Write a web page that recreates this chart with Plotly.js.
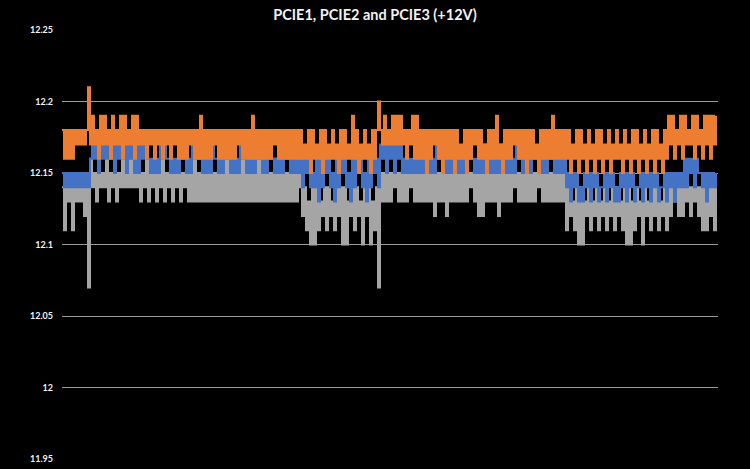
<!DOCTYPE html>
<html>
<head>
<meta charset="utf-8">
<script src="https://cdn.plot.ly/plotly-3.0.1.min.js"></script>
<style>
  html, body { margin: 0; padding: 0; background: #000; }
  #graphDiv { width: 750px; height: 469px; }
</style>
</head>
<body>
<div id="graphDiv"></div>
<script>
// readings in hundredths of a volt above 12 V, one sample per column of the log
const pcie1 = [
  15,14,15,14,15,14,15,14,15,14,15,14,15,
  14,
  16,17,16,17,15,17,16,17,16,17,
  16,17,15,17,16,17,16,17,15,17,
  16,17,15,17,15,17,16,
  17,16,16,15,16,15,16,15,17,16,
  17,16,16,15,16,15,16,15,17,16,
  16,15,16,15,17,16,17,16,16,15,
  16,15,16,15,17,16,16,15,16,15,
  17,16,16,15,16,15,16,15,17,16,
  16,15,16,15,16,15,17,16,16,15,
  16,15,17,16,16,15,16,15,16,15,
  17,16,16,15,16,15,16,15,
  16,14,16,15,16,14,15,14,16,13,
  16,14,16,15,16,14,15,13,16,14,
  16,15,16,14,15,13,16,14,16,15,
  16,14,15,13,16,14,16,15,16,
  14,
  17,16,17,15,17,16,17,15,17,16,
  17,15,16,15,16,15,16,15,16,15,
  16,15,17,16,16,15,16,15,17,16,
  16,15,16,15,16,15,17,16,16,15,
  16,15,16,15,17,16,16,15,16,15,
  16,15,17,16,16,15,16,15,16,15,
  17,16,16,15,16,15,16,15,17,16,
  16,15,16,15,16,15,17,16,16,15,
  16,15,16,15,17,16,16,15,16,15,
  16,15,16,
  14,15,13,15,14,15,13,14,13,15,
  14,15,13,15,14,15,13,14,14,15,
  13,15,14,15,13,14,13,15,14,15,
  13,15,14,15,13,14,14,15,13,15,
  14,15,13,15,14,15,13,14,14,15,
  13,
  15,14,15,13,15,14,15,14,16,14,
  16,15,16,14,16,15,15,14,15,13,
  15,14,15,14,15
];
const pcie2 = [
  18,16,18,16,18,16,18,17,18,17,18,17,18,
  21,
  17,19,17,18,16,19,17,19,17,18,
  16,19,17,18,17,19,16,19,17,18,
  17,19,16,19,17,18,17,
  18,16,18,17,18,16,18,17,18,16,
  18,17,18,16,18,17,18,16,18,16,
  18,16,18,17,18,16,18,16,19,16,
  18,16,18,16,18,17,18,16,18,16,
  18,16,18,16,18,16,18,17,18,16,
  18,16,18,16,19,16,18,16,18,16,
  18,16,18,16,18,17,18,16,18,16,
  18,16,18,16,18,16,18,16,
  18,16,17,16,18,15,18,16,17,16,
  18,15,18,16,17,16,18,16,17,15,
  18,16,18,16,17,16,19,16,18,15,
  17,16,18,16,17,15,18,16,18,
  20,
  18,17,19,17,18,17,19,17,19,17,
  19,17,18,16,18,17,19,16,19,16,
  18,16,18,15,18,16,18,17,18,16,
  18,15,18,16,18,16,18,15,18,16,
  17,16,18,15,18,16,18,17,18,16,
  18,16,17,15,18,16,18,16,19,16,
  17,15,18,16,18,16,18,17,18,16,
  18,16,18,15,18,16,18,16,17,15,
  18,16,18,16,18,16,19,16,18,16,
  18,16,18,
  16,18,15,17,16,18,15,18,16,17,
  15,18,16,17,15,18,16,18,15,17,
  16,18,15,17,16,18,16,17,15,18,
  16,17,15,18,16,18,15,17,16,18,
  15,17,16,18,15,18,16,17,15,18,
  16,
  19,17,19,16,18,17,19,16,19,17,
  18,17,19,16,19,17,18,16,19,17,
  19,16,19,17,19
];
const pcie3 = [
  14,11,14,13,14,11,14,13,14,13,14,12,14,
  7,
  16,14,15,13,16,14,15,14,16,13,
  15,14,16,13,15,14,16,14,15,14,
  16,14,15,14,16,13,15,14,16,13,
  15,14,16,13,15,14,16,13,15,14,
  16,13,15,14,16,13,15,14,16,13,
  15,13,16,13,15,13,16,13,15,13,
  16,13,15,13,16,13,15,13,16,13,
  15,13,16,13,15,13,16,13,15,13,
  16,13,15,13,16,13,15,13,16,13,
  15,13,16,13,15,13,16,13,15,13,
  16,13,15,13,16,
  14,12,14,11,13,10,14,10,14,11,
  13,12,14,11,14,12,13,11,14,12,
  14,10,14,10,13,12,14,11,14,12,
  13,10,14,12,14,10,13,11,14,
  7,
  15,13,15,13,15,13,15,14,15,13,
  15,13,15,13,15,14,15,13,15,13,
  15,13,15,13,15,13,15,12,15,13,
  15,13,15,12,15,13,15,13,15,13,
  15,13,15,13,15,14,15,13,15,12,
  15,12,15,13,15,13,15,13,15,12,
  15,13,15,13,15,13,15,14,15,13,
  15,13,15,13,15,13,15,13,15,14,
  15,13,15,13,15,13,15,13,15,13,
  15,13,15,
  11,14,12,13,11,14,10,14,10,13,
  12,14,11,13,12,14,11,13,12,14,
  11,13,12,14,11,14,12,13,11,14,
  10,14,10,13,11,14,12,13,10,14,
  12,13,11,14,12,14,11,13,12,14,
  11,
  14,12,14,13,14,12,14,12,14,13,
  14,12,14,13,14,12,14,11,14,11,
  14,12,14,11,14
];
const tickVals = [11.95, 12, 12.05, 12.1, 12.15, 12.2, 12.25];
const tickLabels = ["11.95", "12", "12.05", "12.1", "12.15", "12.2", "12.25"];

function to_volts(rows) {
    return rows.map((v) => 12 + v / 100);
}
function make_trace(rows, name, color) {
    return {
        x: rows.map((_, i) => i),
        y: to_volts(rows),
        name: name,
        mode: "lines",
        type: "scatter",
        // step lines: each sample paints a vertical stroke, like the dense log
        line: {color: color, width: 2, shape: "hv"},
        hoverinfo: "skip"
    };
}

// gray underneath, orange on top, as the bands overlap in the picture
const data = [
    make_trace(pcie3, "PCIE3", "#A5A5A5"),
    make_trace(pcie1, "PCIE1", "#4472C4"),
    make_trace(pcie2, "PCIE2", "#ED7D31")
];

const layout = {
    width: 750,
    height: 469,
    paper_bgcolor: "#000",
    plot_bgcolor: "#000",
    margin: {l: 62, r: 32, t: 30, b: 10},
    showlegend: false,
    title: {
        text: "PCIE1, PCIE2 and PCIE3 (+12V)",
        font: {family: "Lato", size: 14.5, color: "#f2f2f2", weight: "bold"},
        x: 0.5,
        xanchor: "center",
        y: 0.968,
        yanchor: "middle",
        yref: "container"
    },
    xaxis: {
        range: [0, pcie1.length],
        showgrid: false,
        zeroline: false,
        showline: false,
        showticklabels: false,
        ticks: ""
    },
    yaxis: {
        range: [11.95, 12.25],
        tickvals: tickVals,
        ticktext: tickLabels,
        gridcolor: "#9a9a9a",
        gridwidth: 1,
        zeroline: false,
        showline: false,
        ticks: "",
        ticklabelstandoff: 8,
        tickfont: {family: "Lato", size: 9, color: "#f2f2f2", weight: "bold"}
    }
};

Plotly.newPlot("graphDiv", data, layout, {displayModeBar: false, staticPlot: true});
</script>
</body>
</html>
